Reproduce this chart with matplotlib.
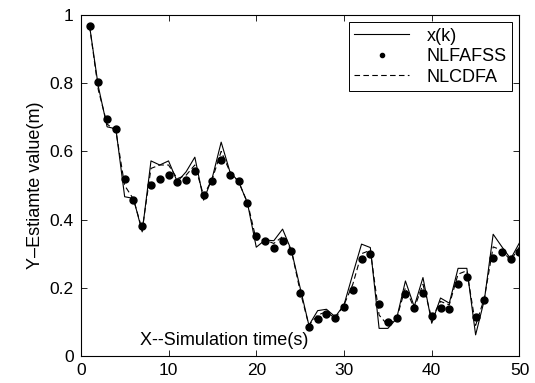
import numpy as np
import matplotlib
matplotlib.use("Agg")
import matplotlib.pyplot as plt

plt.rcParams["font.family"] = ["Liberation Sans", "DejaVu Sans"]

k = np.arange(1, 51)

# x(k) -- true trajectory
x_true = [0.968, 0.79, 0.672, 0.666, 0.467, 0.462, 0.364, 0.572, 0.56, 0.572,
          0.511, 0.54, 0.583, 0.457, 0.524, 0.627, 0.54, 0.511, 0.448, 0.319,
          0.34, 0.338, 0.372, 0.31, 0.2, 0.09, 0.133, 0.137, 0.115, 0.15,
          0.24, 0.328, 0.318, 0.081, 0.081, 0.11, 0.22, 0.145, 0.23, 0.096,
          0.17, 0.155, 0.257, 0.257, 0.062, 0.165, 0.357, 0.32, 0.285, 0.332]

# NLFAFSS estimate (dots)
nlfafss = [0.968, 0.803, 0.694, 0.666, 0.518, 0.457, 0.381, 0.50, 0.518, 0.53,
           0.509, 0.517, 0.541, 0.471, 0.513, 0.575, 0.53, 0.513, 0.448, 0.353,
           0.336, 0.317, 0.336, 0.309, 0.186, 0.086, 0.108, 0.123, 0.11, 0.143,
           0.194, 0.284, 0.298, 0.152, 0.099, 0.112, 0.182, 0.14, 0.186, 0.118,
           0.141, 0.137, 0.21, 0.232, 0.115, 0.165, 0.288, 0.306, 0.283, 0.304]

# NLCDFA estimate (dashed)
nlcdfa = [0.968, 0.78, 0.68, 0.66, 0.50, 0.46, 0.37, 0.55, 0.56, 0.56,
          0.52, 0.53, 0.56, 0.47, 0.52, 0.60, 0.54, 0.51, 0.45, 0.34,
          0.34, 0.33, 0.35, 0.31, 0.19, 0.09, 0.12, 0.13, 0.11, 0.15,
          0.21, 0.30, 0.31, 0.12, 0.09, 0.11, 0.20, 0.14, 0.21, 0.11,
          0.16, 0.15, 0.24, 0.25, 0.09, 0.17, 0.32, 0.31, 0.28, 0.32]

fig = plt.figure(figsize=(5.35, 3.83), dpi=100)
ax = fig.add_axes([0.151, 0.0705, 0.820, 0.8905])

ax.plot(k, x_true, "-", color="black", lw=0.8, label="x(k)")
ax.plot(k, nlfafss, "o", color="black", ms=5, ls="none", label="NLFAFSS")
ax.plot(k, nlcdfa, "--", color="black", lw=0.8, dashes=(5, 3), label="NLCDFA")

ax.set_xlim(0, 50)
ax.set_ylim(0, 1)
ax.set_xticks([0, 10, 20, 30, 40, 50])
ax.set_yticks([0, 0.2, 0.4, 0.6, 0.8, 1])
ax.set_yticklabels(["0", "0.2", "0.4", "0.6", "0.8", "1"])
ax.tick_params(direction="in", top=True, right=True, labelsize=12.5,
               length=4, width=0.6, pad=5)
for s in ax.spines.values():
    s.set_linewidth(0.8)

ax.set_ylabel("Y\u2013Estiamte value(m)", fontsize=13, labelpad=4)
ax.text(16.3, 0.045, "X--Simulation time(s)", fontsize=13, ha="center", va="center")

leg = ax.legend(loc="upper right", fontsize=13, frameon=True, fancybox=False,
                edgecolor="black", framealpha=1, handlelength=3.0,
                borderaxespad=0.4, labelspacing=0.2, borderpad=0.3,
                handletextpad=1.0, markerscale=0.6)
leg.get_frame().set_linewidth(0.7)

fig.savefig("out.png", dpi=100)
